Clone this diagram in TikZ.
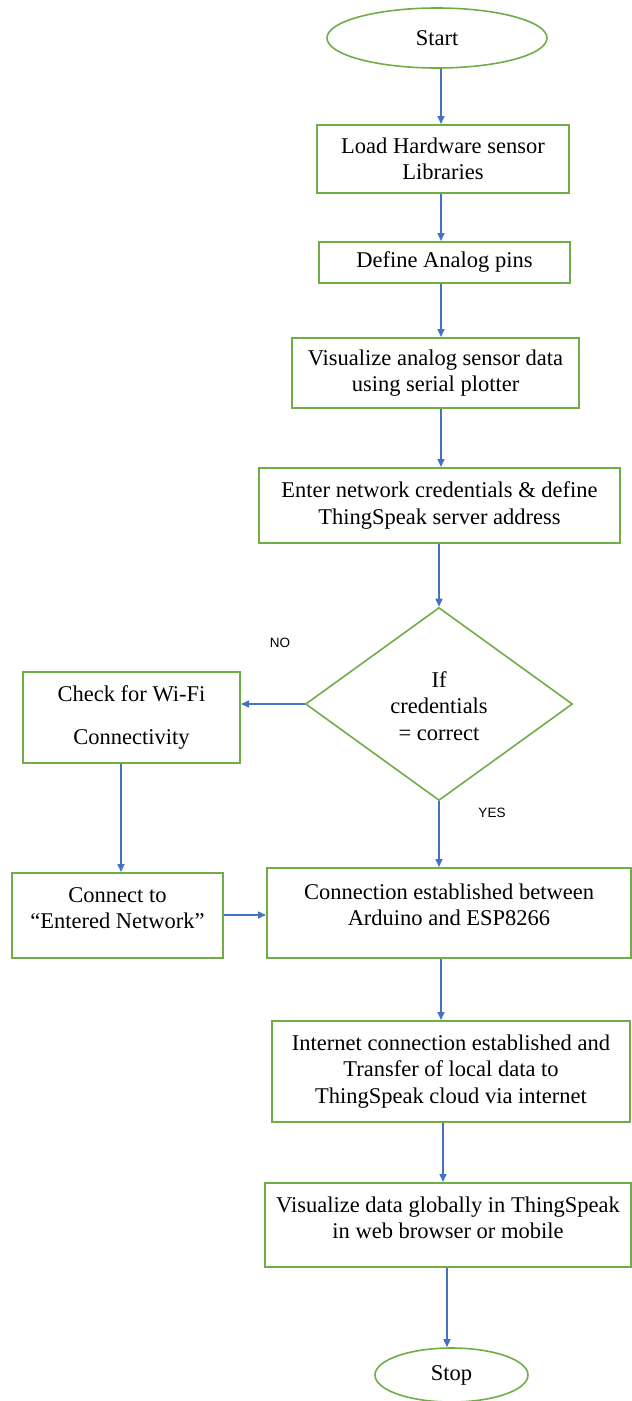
\documentclass[tikz,border=0pt]{standalone}
\usepackage{fontspec}
\setmainfont{Liberation Serif}
\newfontfamily\lblfont{Liberation Sans}
\usetikzlibrary{shapes.geometric,arrows.meta,calc}
\definecolor{boxgreen}{RGB}{112,173,71}
\definecolor{arrblue}{RGB}{68,114,196}
\begin{document}
\begin{tikzpicture}[x=1pt,y=-1pt,
  every node/.style={font=\fontsize{22.5}{26.5}\selectfont},
  box/.style={draw=boxgreen,line width=2pt,rectangle,align=center,inner sep=0pt},
  term/.style={draw=boxgreen,line width=1.6pt,ellipse,inner sep=0pt},
  dec/.style={draw=boxgreen,line width=1.6pt,diamond,inner sep=0pt,align=center},
  txt/.style={align=center,inner sep=0pt},
  arr/.style={draw=arrblue,line width=1.5pt,-{Triangle[length=8pt,width=7pt]}},
  yn/.style={font=\lblfont\fontsize{13.5}{15}\selectfont,inner sep=0pt}]
\useasboundingbox (0,0) rectangle (632,1401);
\coordinate (ax) at (441,0);

\node[term,minimum width=220,minimum height=60] (start) at (437,38) {Start};
\node[box,minimum width=252,minimum height=68] (b1) at (443,159) {Load Hardware sensor\\Libraries};
\node[box,minimum width=251,minimum height=41] (b2) at (444.5,262.5) {Define Analog pins};
\node[box,minimum width=287,minimum height=70] (b3) at (435.5,373) {Visualize analog sensor data\\using serial plotter};
\node[box,minimum width=361,minimum height=75] (b4) at (439.5,505.5) {Enter network credentials \& define\\ThingSpeak server address};
\node[dec,minimum width=267,minimum height=193] (d) at (439,704) {};
\node[txt] (dt) at (439,706) {If\\credentials\\= correct};
\node[box,minimum width=217,minimum height=91] (chk) at (131.5,717.5) {Check for Wi-Fi\\[16pt]Connectivity};
\node[box,minimum width=211,minimum height=85] (con) at (117.5,915.5) {};
\node[txt] (cont) at (117.5,908) {Connect to\\“Entered Network”};
\node[box,minimum width=364,minimum height=90] (est) at (449,913) {};
\node[txt] (estt) at (449,905) {Connection established between\\Arduino and ESP8266};
\node[box,minimum width=358,minimum height=101] (inet) at (451,1071.5) {Internet connection established and\\Transfer of local data to\\ThingSpeak cloud via internet};
\node[box,minimum width=366,minimum height=84] (vis) at (448,1225) {};
\node[txt] (vist) at (448,1218) {Visualize data globally in ThingSpeak\\in web browser or mobile};
\node[term,minimum width=153,minimum height=54] (stop) at (451.5,1375) {Stop};

\node[yn] (no) at (280,643) {NO};
\node[yn] (yes) at (492,813) {YES};

\draw[arr] (start.south -| ax) -- (b1.north -| ax);
\draw[arr] (b1.south -| ax) -- (b2.north -| ax);
\draw[arr] (b2.south -| ax) -- (b3.north -| ax);
\draw[arr] (b3.south -| ax) -- (b4.north -| ax);
\draw[arr] (b4.south -| d.north) -- (d.north);
\draw[arr] (d.west) -- (d.west -| chk.east);
\draw[arr] (d.south) -- (d.south |- est.north);
\draw[arr] (chk.south -| 121,0) -- (con.north -| 121,0);
\draw[arr] (con.east |- 0,915) -- (est.west |- 0,915);
\draw[arr] (est.south -| ax) -- (inet.north -| ax);
\draw[arr] (inet.south -| 443,0) -- (vis.north -| 443,0);
\draw[arr] (vis.south -| 447,0) -- (stop.north -| 447,0);
\end{tikzpicture}
\end{document}
